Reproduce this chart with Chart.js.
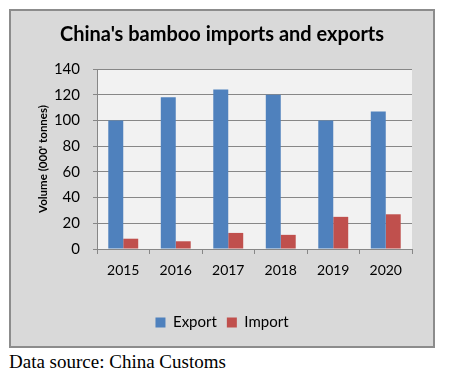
<!DOCTYPE html>
<html>
<head>
<meta charset="utf-8">
<script src="https://cdn.jsdelivr.net/npm/chart.js@4"></script>
<style>
  body { margin: 0; background: #fff; width: 452px; height: 376px; position: relative; overflow: hidden; }
  #panel { position: absolute; left: 9px; top: 9px; width: 422px; height: 335px;
           background: #d9d9d9; border: 2px solid #8c8c8c; }
  #source { position: absolute; left: 9px; top: 352px; font: 19px "Liberation Serif", serif;
            line-height: 19px; color: #000; white-space: nowrap; }
</style>
</head>
<body>
<div id="panel"><canvas id="bamboo-chart" width="422" height="335"></canvas></div>
<div id="source">Data source: China Customs</div>
<script>
const years = ["2015", "2016", "2017", "2018", "2019", "2020"];
const exportVolume = [100, 118, 124, 120, 100, 107];
const importVolume = [8, 6, 12.5, 11, 25, 27];

const gridGray = "#878787";

// fill the plot area lighter than the panel
const plotBackground = {
  id: "plotBackground",
  beforeDraw(chart) {
    const { ctx, chartArea } = chart;
    ctx.save();
    ctx.fillStyle = "#f2f2f2";
    ctx.fillRect(chartArea.left, chartArea.top, chartArea.right - chartArea.left, chartArea.bottom - chartArea.top);
    ctx.restore();
  },
};

const bambooCanvas = document.getElementById("bamboo-chart").getContext("2d");

const bambooChart = new Chart(bambooCanvas, {
  type: "bar",
  data: {
    labels: years,
    datasets: [
      {
        label: "Export",
        data: exportVolume,
        backgroundColor: "#4f81bd",
        borderWidth: 0,
        categoryPercentage: 0.57,
        barPercentage: 1.0,
      },
      {
        label: "Import",
        data: importVolume,
        backgroundColor: "#c0504d",
        borderWidth: 0,
        categoryPercentage: 0.57,
        barPercentage: 1.0,
      },
    ],
  },
  options: {
    responsive: false,
    animation: false,
    layout: { padding: { left: 0, right: 0, top: 0, bottom: 6 } },
    plugins: {
      title: {
        display: true,
        text: "China's bamboo imports and exports",
        color: "#000",
        font: { family: "Lato", size: 20, weight: "bold" },
        padding: { top: 12, bottom: 22 },
      },
      legend: {
        position: "bottom",
        labels: {
          color: "#000",
          font: { family: "Lato", size: 15 },
          boxWidth: 10,
          boxHeight: 10,
          padding: 10,
        },
      },
      tooltip: { enabled: false },
    },
    scales: {
      x: {
        offset: true,
        grid: {
          display: true,
          offset: true,
          drawOnChartArea: false,
          color: gridGray,
          tickLength: 5,
        },
        border: { color: gridGray },
        ticks: {
          color: "#000",
          font: { family: "Lato", size: 14 },
          padding: 8,
        },
        afterFit(scale) {
          scale.height = 56;
        },
      },
      y: {
        min: 0,
        max: 140,
        ticks: {
          stepSize: 20,
          color: "#000",
          font: { family: "Lato", size: 15 },
          padding: 13,
        },
        grid: { color: gridGray, tickLength: 4 },
        border: { color: gridGray },
        title: {
          display: true,
          text: "Volume (000' tonnes)",
          color: "#000",
          font: { family: "Lato", size: 11.5, weight: "bold" },
          padding: { top: 25, bottom: 0 },
        },
        afterFit(scale) {
          scale.width = 86;
        },
      },
      // empty right-hand spacer so the title and legend stay centred on the panel
      spacer: {
        position: "right",
        min: 0,
        max: 140,
        grid: { display: false },
        border: { display: false },
        ticks: { display: false },
        afterFit(scale) {
          scale.width = 21;
        },
      },
    },
  },
  plugins: [plotBackground],
});
</script>
</body>
</html>
